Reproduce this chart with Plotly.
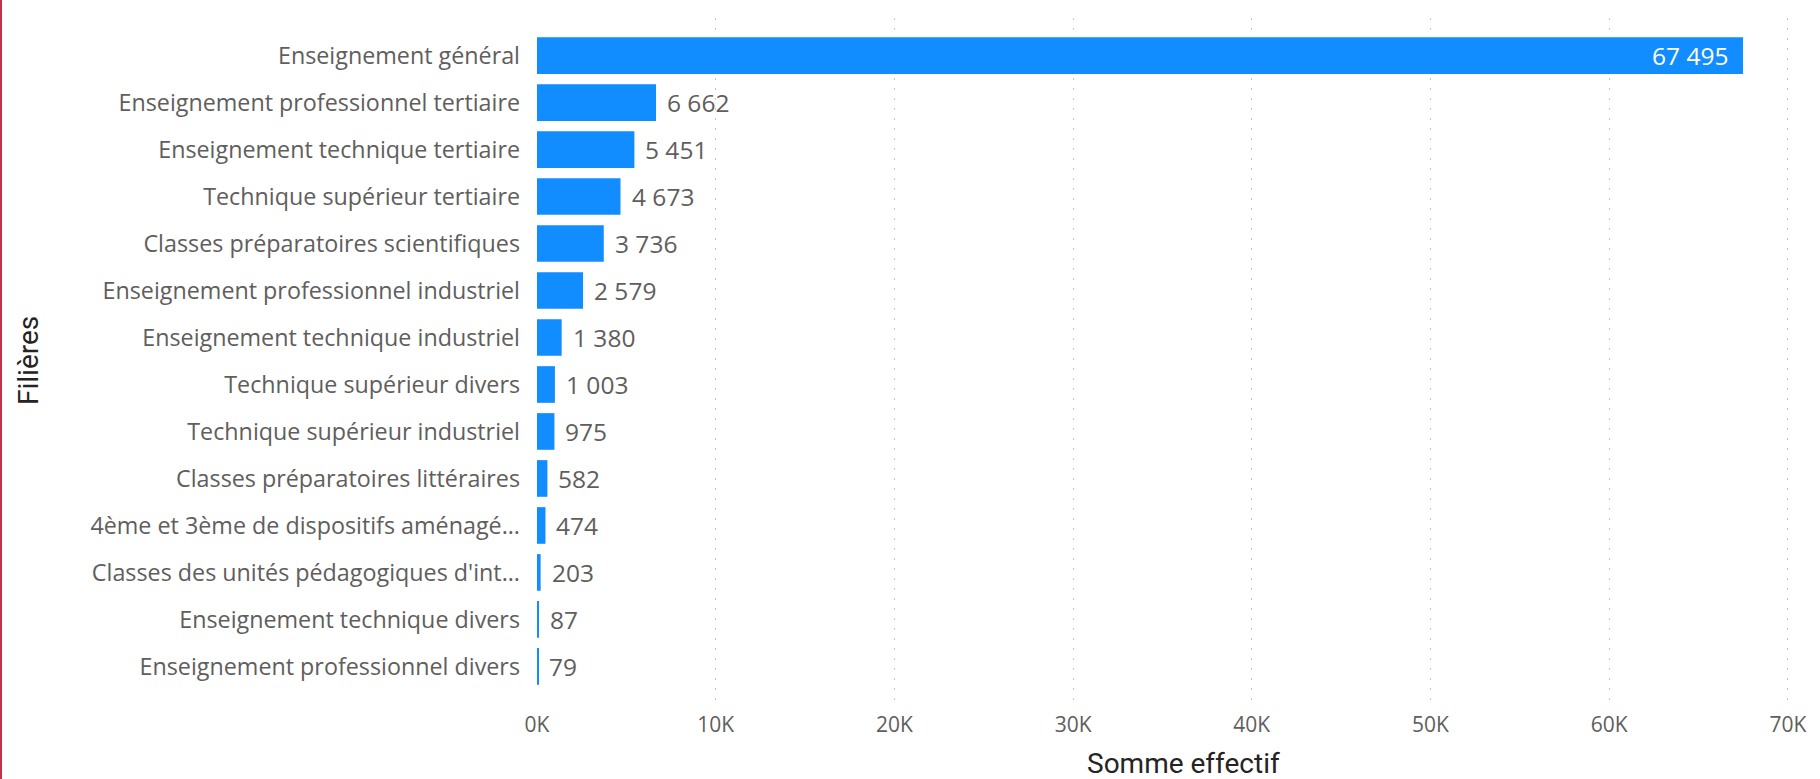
import plotly.graph_objects as go

categories = [
    "Enseignement général",
    "Enseignement professionnel tertiaire",
    "Enseignement technique tertiaire",
    "Technique supérieur tertiaire",
    "Classes préparatoires scientifiques",
    "Enseignement professionnel industriel",
    "Enseignement technique industriel",
    "Technique supérieur divers",
    "Technique supérieur industriel",
    "Classes préparatoires littéraires",
    "4ème et 3ème de dispositifs aménagé...",
    "Classes des unités pédagogiques d'int...",
    "Enseignement technique divers",
    "Enseignement professionnel divers",
]
values = [67495, 6662, 5451, 4673, 3736, 2579, 1380, 1003, 975, 582, 474, 203, 87, 79]
tick_vals = [0, 10000, 20000, 30000, 40000, 50000, 60000, 70000]
tick_text = ["0K", "10K", "20K", "30K", "40K", "50K", "60K", "70K"]

W, H = 1820, 779
ML, MR, MT, MB = 537, 0, 18, 75
PW, PH = W - ML - MR, H - MT - MB
FONT = "Open Sans"
TFONT = "Roboto"
GRAY = "#605E5C"
DARK = "#252423"

def fmt(v):
    return f"{v:,}".replace(",", " ")

def px_x(p):
    return (p - ML) / PW

def px_y(p):
    return (H - MB - p) / PH

fig = go.Figure()
fig.add_trace(go.Bar(
    y=categories, x=values, orientation="h",
    marker=dict(color="#118DFF", line=dict(width=0)),
    width=0.78, hoverinfo="skip",
))

annotations = []
for i, (c, v) in enumerate(zip(categories, values)):
    inside = i == 0
    annotations.append(dict(
        x=v, y=c, xref="x", yref="y", text=fmt(v), showarrow=False,
        xanchor="right" if inside else "left",
        xshift=-13 if inside else 9,
        font=dict(family=FONT, size=24.5, color="white" if inside else GRAY),
    ))
# axis titles
annotations.append(dict(
    x=px_x(1183), y=px_y(763), xref="paper", yref="paper", text="Somme effectif",
    showarrow=False, xanchor="center", yanchor="middle",
    font=dict(family=TFONT, size=28, color=DARK),
))
annotations.append(dict(
    x=px_x(28), y=px_y(361), xref="paper", yref="paper", text="Filières",
    showarrow=False, xanchor="center", yanchor="middle", textangle=-90,
    font=dict(family=TFONT, size=28, color=DARK),
))

fig.update_layout(
    width=W, height=H,
    margin=dict(l=ML, r=MR, t=MT, b=MB, autoexpand=False),
    paper_bgcolor="white", plot_bgcolor="white",
    showlegend=False,
    annotations=annotations,
    font=dict(family=FONT, color=GRAY),
)
fig.update_xaxes(
    range=[0, 71800], tickvals=tick_vals, ticktext=tick_text,
    showgrid=True, gridcolor="#C8C8C8", griddash="2px,8px", gridwidth=1,
    zeroline=False, showline=False, ticks="", ticklabelstandoff=6,
    tickfont=dict(family=FONT, size=21, color=GRAY),
    automargin=False,
)
fig.update_yaxes(
    range=[13.8, -0.8], showgrid=False, zeroline=False, showline=False,
    ticks="", ticklabelstandoff=16, automargin=False,
    tickfont=dict(family=FONT, size=23.3, color=GRAY),
)
# red left border
fig.add_shape(type="line", xref="paper", yref="paper",
              x0=px_x(1), x1=px_x(1), y0=px_y(H), y1=px_y(0),
              line=dict(color="#C4314B", width=2))
fig.write_html("out.html", config={"displayModeBar": False},
               post_script="document.body.style.margin='0';")
